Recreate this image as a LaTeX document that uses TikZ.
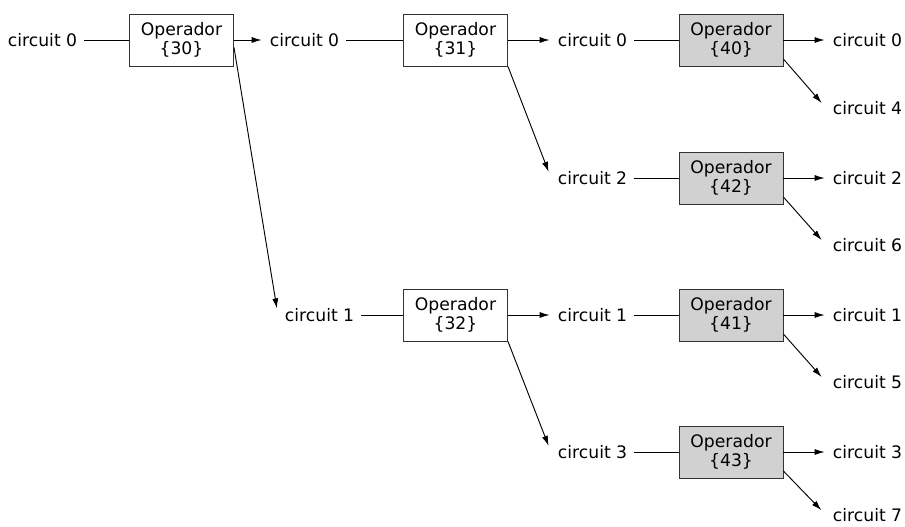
\documentclass[tikz,border=0pt]{standalone}
\usepackage{fontspec}
\setmainfont{DejaVu Sans}
\usetikzlibrary{arrows.meta}

\begin{document}
\begin{tikzpicture}[x=0.75pt,y=0.75pt,yscale=-1,xscale=1,
    font=\fontsize{12.9}{14.3}\selectfont,
    circ/.style={anchor=west, inner sep=5pt},
    oper/.style={draw=black!80, line width=0.7pt, fill=white, align=center,
        minimum width=78pt, minimum height=39pt, inner sep=0pt},
    operg/.style={oper, fill=black!18},
    wire/.style={line width=0.7pt},
    feed/.style={wire, -{Latex[length=7.5pt,width=4.5pt]}, shorten >=1pt},
    split/.style={wire, -{Latex[length=7.5pt,width=4.5pt]}, shorten >=5pt}]
    \useasboundingbox (0,0) rectangle (905,526);

    %first level
    \node[circ] (in0) at (1,40) {circuit 0};
    \node[oper] (op30) at (181.5,40) {Operador\\\{30\}};
    \node[circ] (a0) at (263,40) {circuit 0};
    \node[circ] (a1) at (278,315) {circuit 1};
    \draw[wire] (in0) -- (op30);
    \draw[feed] (op30) -- (a0);
    \draw[split] (op30.-8) -- (a1.west);

    %second level
    \node[oper] (op31) at (455.5,40) {Operador\\\{31\}};
    \node[oper] (op32) at (455.5,315) {Operador\\\{32\}};
    \node[circ] (b0) at (551,40) {circuit 0};
    \node[circ] (b2) at (551,178) {circuit 2};
    \node[circ] (b1) at (551,315) {circuit 1};
    \node[circ] (b3) at (551,452) {circuit 3};
    \draw[wire] (a0) -- (op31);
    \draw[wire] (a1) -- (op32);
    \draw[feed] (op31) -- (b0);
    \draw[split] (op31.south east) -- (b2.west);
    \draw[feed] (op32) -- (b1);
    \draw[split] (op32.south east) -- (b3.west);

    %third level
    \node[operg] (op40) at (731,40) {Operador\\\{40\}};
    \node[operg] (op42) at (731,178) {Operador\\\{42\}};
    \node[operg] (op41) at (731,315) {Operador\\\{41\}};
    \node[operg] (op43) at (731,452) {Operador\\\{43\}};
    \draw[wire] (b0) -- (op40);
    \draw[wire] (b2) -- (op42);
    \draw[wire] (b1) -- (op41);
    \draw[wire] (b3) -- (op43);

    \node[circ] (c0) at (826,40) {circuit 0};
    \node[circ] (c4) at (826,108) {circuit 4};
    \node[circ] (c2) at (826,178) {circuit 2};
    \node[circ] (c6) at (826,245) {circuit 6};
    \node[circ] (c1) at (826,315) {circuit 1};
    \node[circ] (c5) at (826,382) {circuit 5};
    \node[circ] (c3) at (826,452) {circuit 3};
    \node[circ] (c7) at (826,515) {circuit 7};
    \draw[feed] (op40) -- (c0);
    \draw[split] (op40.-20) -- (c4.west);
    \draw[feed] (op42) -- (c2);
    \draw[split] (op42.-20) -- (c6.west);
    \draw[feed] (op41) -- (c1);
    \draw[split] (op41.-20) -- (c5.west);
    \draw[feed] (op43) -- (c3);
    \draw[split] (op43.-20) -- (c7.west);
\end{tikzpicture}
\end{document}
